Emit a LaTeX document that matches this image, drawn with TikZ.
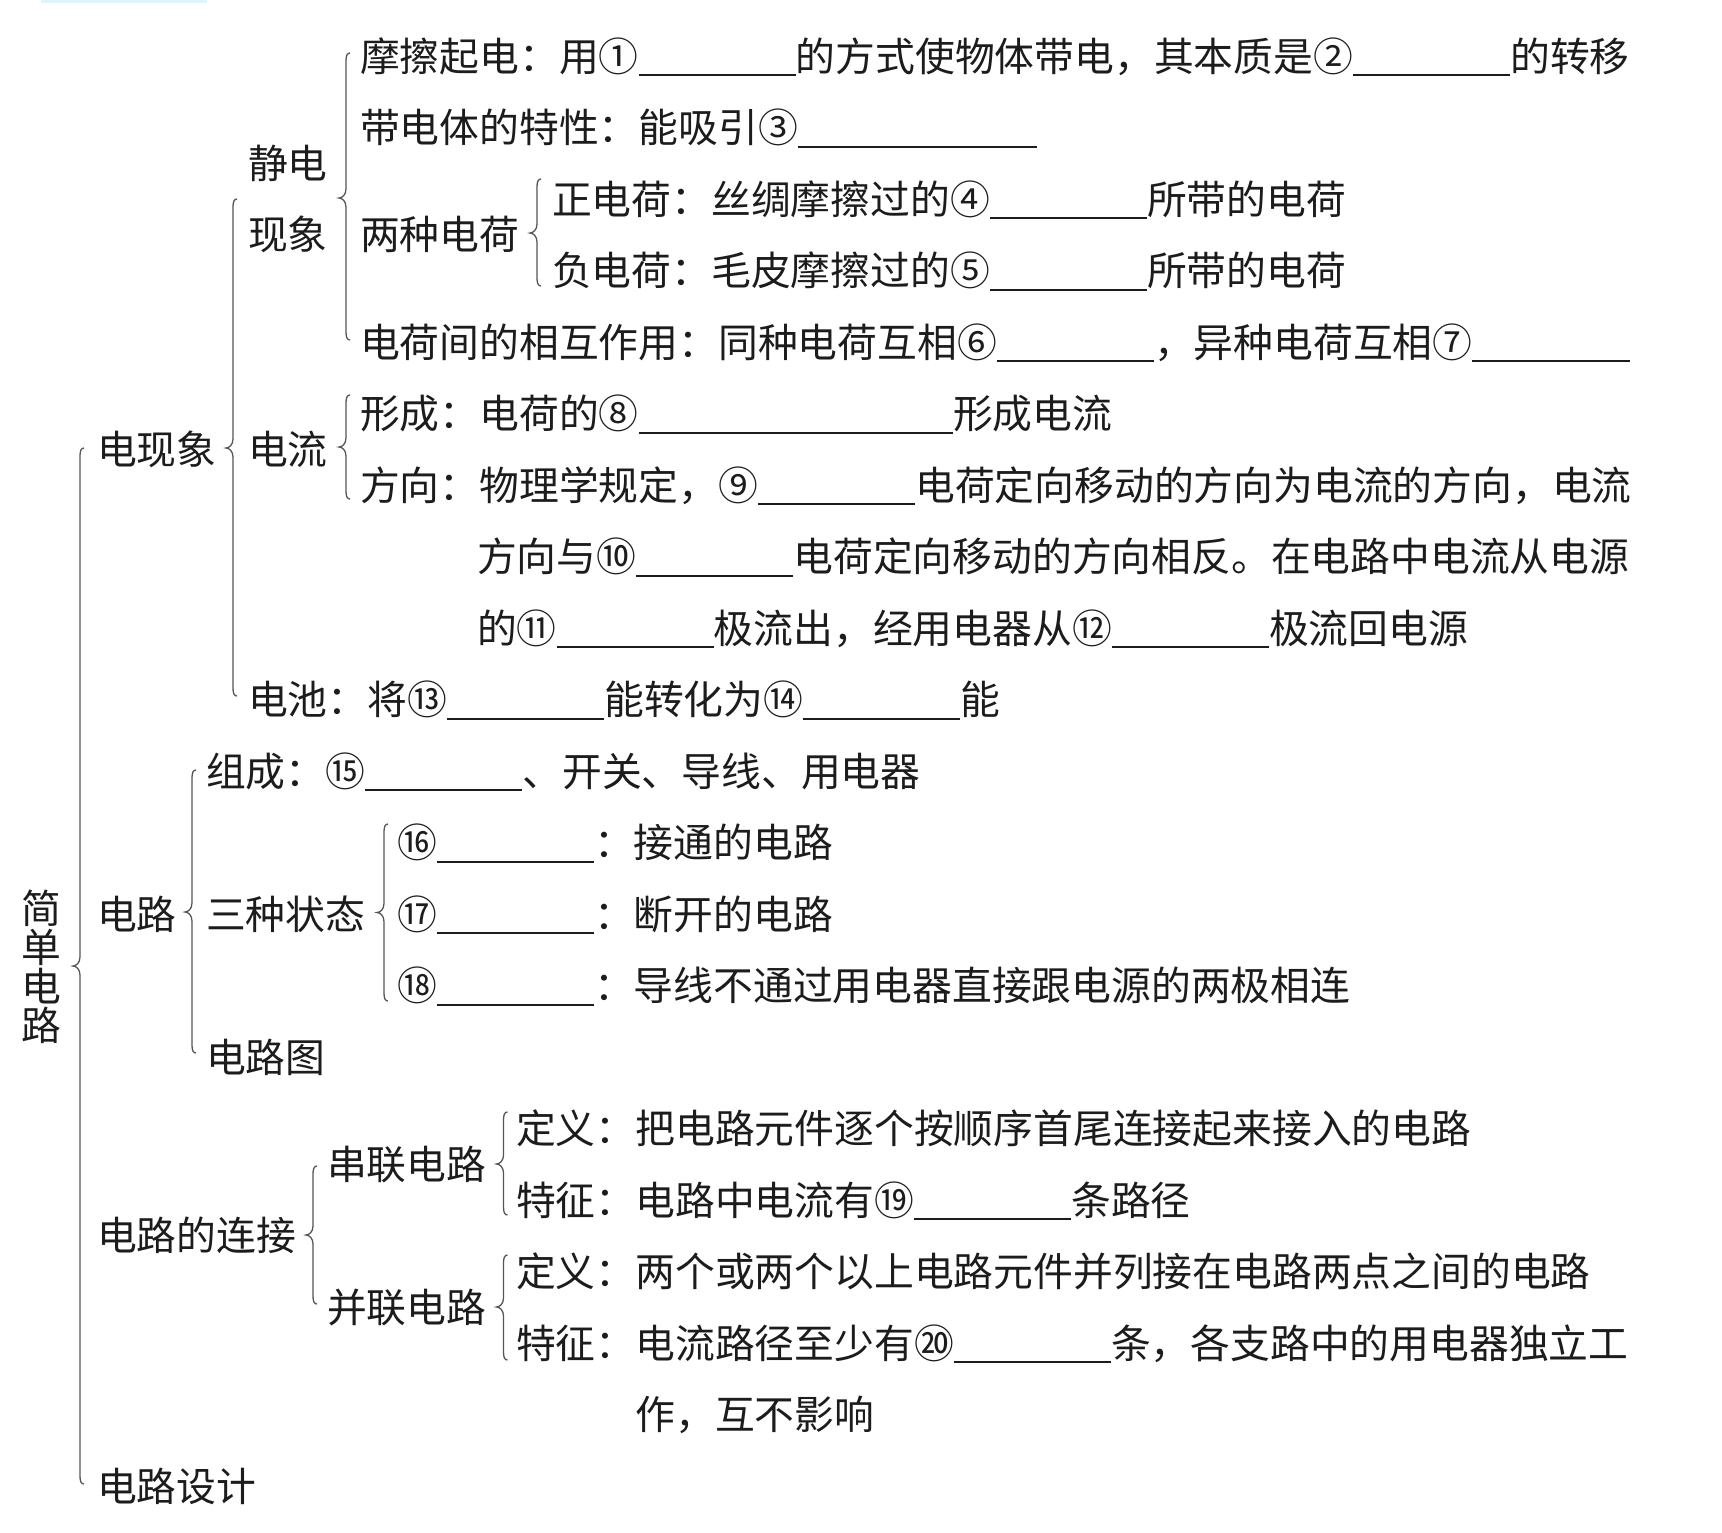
\documentclass[tikz,border=0pt]{standalone}
\usepackage{fontspec}
\setmainfont{Noto Sans CJK SC}
\definecolor{ink}{HTML}{1C1C1C}
\definecolor{scan}{HTML}{E2F4FB}
\newcommand\fsz{\fontsize{39.8pt}{47pt}\selectfont}
\newcommand\fszv{\fontsize{39.8pt}{39pt}\selectfont}
\newcommand\blk[1]{\rule[-0.13em]{#1em}{1.8pt}}
\newcommand\mybrace[4]{% x, top, middle, bottom
  \draw[brc] (#1+4,#2) .. controls (#1+1,#2) and (#1,#2+3) .. (#1,#2+8)
    -- (#1,#3-9) .. controls (#1,#3-3) and (#1-4,#3) .. (#1-7,#3)
    .. controls (#1-4,#3) and (#1,#3+3) .. (#1,#3+9)
    -- (#1,#4-8) .. controls (#1,#4-3) and (#1+1,#4) .. (#1+4,#4);}
\begin{document}
\begin{tikzpicture}[x=1pt,y=-1pt,
  txt/.style={anchor=west,inner sep=0pt,outer sep=0pt,text height=35pt,text depth=4.8pt,font=\fsz,text=ink},
  vtxt/.style={anchor=center,inner sep=0pt,align=center,font=\fszv,text=ink},
  brc/.style={draw=ink!75,line width=1.3pt}]
\useasboundingbox (0,0) rectangle (1722,1532);
\fill[scan] (41,0) rectangle (207,3);

% root
\node[vtxt] (root) at (41.5,966.5) {简\\单\\电\\路};

% level 1
\node[txt] (e1) at (97,449) {电现象};
\node[txt] (e2) at (97,914) {电路};
\node[txt] (e3) at (97,1235.5) {电路的连接};
\node[txt] (e4) at (97,1486) {电路设计};

% under 电现象
\node[txt] (jd1) at (248,163) {静电};
\node[txt] (jd2) at (248,234.75) {现象};
\node[txt] (dl) at (248,449) {电流};
\node[txt] (dc) at (248,699.5) {电池：将⑬\blk{3.95}能转化为⑭\blk{3.95}能};

% under 静电现象
\node[txt] (a1) at (360,56) {摩擦起电：用①\blk{3.95}的方式使物体带电，其本质是②\blk{3.95}的转移};
\node[txt] (a2) at (360,127.5) {带电体的特性：能吸引③\blk{6}};
\node[txt] (a3) at (360,234.75) {两种电荷};
\node[txt] (a4) at (360,342) {电荷间的相互作用：同种电荷互相⑥\blk{3.95}，异种电荷互相⑦\blk{3.95}};
\node[txt] (b1) at (552,199) {正电荷：丝绸摩擦过的④\blk{3.95}所带的电荷};
\node[txt] (b2) at (552,270.5) {负电荷：毛皮摩擦过的⑤\blk{3.95}所带的电荷};

% under 电流
\node[txt] (c1) at (360,413.5) {形成：电荷的⑧\blk{7.9}形成电流};
\node[txt] (c2) at (360,485) {方向：物理学规定，⑨\blk{3.95}电荷定向移动的方向为电流的方向，电流};
\node[txt] (c3) at (477,556.5) {方向与⑩\blk{3.95}电荷定向移动的方向相反。在电路中电流从电源};
\node[txt] (c4) at (477,628) {的⑪\blk{3.95}极流出，经用电器从⑫\blk{3.95}极流回电源};

% under 电路
\node[txt] (f1) at (206,771) {组成：⑮\blk{3.95}、开关、导线、用电器};
\node[txt] (f2) at (206,914) {三种状态};
\node[txt] (f3) at (206,1057) {电路图};
\node[txt] (g1) at (397,842.5) {⑯\blk{3.95}：接通的电路};
\node[txt] (g2) at (397,914) {⑰\blk{3.95}：断开的电路};
\node[txt] (g3) at (397,985.5) {⑱\blk{3.95}：导线不通过用电器直接跟电源的两极相连};

% under 电路的连接
\node[txt] (h1) at (327,1164) {串联电路};
\node[txt] (h2) at (327,1307) {并联电路};
\node[txt] (i1) at (516,1128.5) {定义：把电路元件逐个按顺序首尾连接起来接入的电路};
\node[txt] (i2) at (516,1200) {特征：电路中电流有⑲\blk{3.95}条路径};
\node[txt] (i3) at (516,1271.5) {定义：两个或两个以上电路元件并列接在电路两点之间的电路};
\node[txt] (i4) at (516,1343) {特征：电流路径至少有⑳\blk{3.95}条，各支路中的用电器独立工};
\node[txt] (i5) at (635.4,1414.5) {作，互不影响};

% braces
\mybrace{80}{448}{966}{1484}
\mybrace{233}{199}{448}{696}
\mybrace{346}{53}{198}{340}
\mybrace{537}{179}{233}{286}
\mybrace{346}{395}{447}{499}
\mybrace{192}{770}{912}{1053}
\mybrace{384}{824}{912.5}{1001}
\mybrace{313}{1166}{1235}{1304}
\mybrace{503.5}{1112}{1164}{1215}
\mybrace{503.5}{1255}{1307}{1360}
\end{tikzpicture}
\end{document}
